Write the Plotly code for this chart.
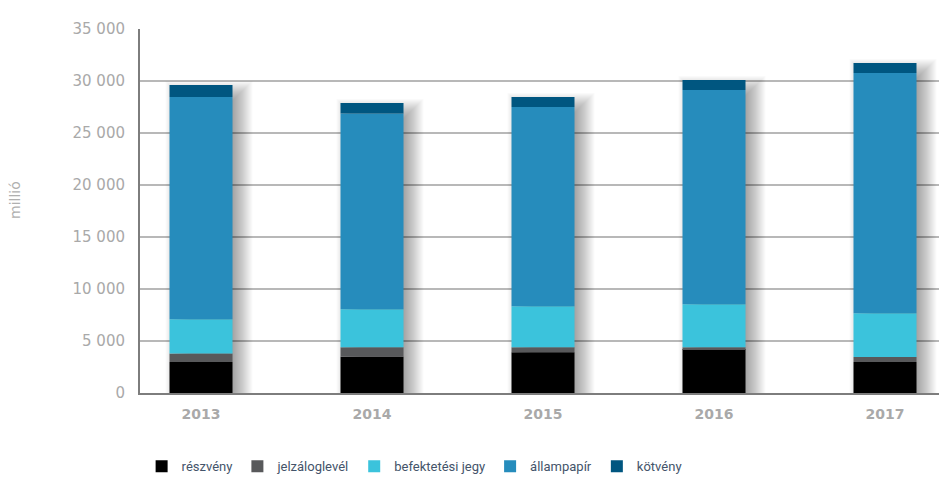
import plotly.graph_objects as go

years = ["2013", "2014", "2015", "2016", "2017"]
series_names = ["részvény", "jelzáloglevél", "befektetési jegy", "állampapír", "kötvény"]
reszveny = [2970, 3480, 3930, 4220, 2970]
jelzaloglevel = [835, 930, 480, 190, 480]
befektetesi_jegy = [3290, 3640, 3930, 4120, 4220]
allampapir = [21375, 18820, 19170, 20610, 23100]
kotveny = [1150, 1020, 960, 960, 960]
colors = ["#000000", "#58595b", "#3bc3dc", "#268cbc", "#005680"]

series = [reszveny, jelzaloglevel, befektetesi_jegy, allampapir, kotveny]
xs = list(range(len(years)))

# geometry helpers (pixel -> data units)
PX_X = 1 / 171.0
PX_Y = 35000 / 364.0
BAR_W = 63 * PX_X

fig = go.Figure()

# soft drop shadow (derived from totals): layered rectangles approximating a blur
totals = [sum(v) for v in zip(*series)]
dx, dy, r = 8, 8, 12
for e in range(-r, r + 1):
    fig.add_trace(go.Bar(
        x=xs, y=[t + (e - dy) * PX_Y for t in totals], base=0,
        width=(63 + 2 * e) * PX_X, offset=(-31.5 + dx - e) * PX_X,
        marker=dict(color="rgba(0,0,0,0.021)", line=dict(width=0)),
        showlegend=False, hoverinfo="skip"))

base = [0] * len(years)
for name, vals, col in zip(series_names, series, colors):
    fig.add_trace(go.Bar(
        x=xs, y=vals, base=base[:], name=name, width=BAR_W,
        marker=dict(color=col, line=dict(width=0))))
    base = [b + v for b, v in zip(base, vals)]

fig.update_layout(
    barmode="overlay",
    width=939, height=469,
    margin=dict(l=132, r=0, t=21, b=84, autoexpand=False),
    paper_bgcolor="white", plot_bgcolor="white",
    separators=", ",
    showlegend=True,
    legend=dict(orientation="h", x=0.002, xanchor="left", y=-0.16, yanchor="top",
                font=dict(family="Roboto, sans-serif", size=13, color="#44546a"),
                traceorder="normal", itemwidth=30),
    xaxis=dict(range=[-61 * PX_X, 746 * PX_X], tickvals=xs, ticktext=years,
               showgrid=False, zeroline=False, showline=True, linecolor="#7d7d7d", linewidth=2,
               ticks="", ticklabelstandoff=7,
               tickfont=dict(family="DejaVu Sans", size=14, color="#a9a9a9", weight="bold")),
    yaxis=dict(range=[0, 35000], dtick=5000, tickformat=",", showgrid=True,
               gridcolor="#b8b8b8", gridwidth=2, zeroline=False,
               showline=True, linecolor="#7d7d7d", linewidth=2, ticks="",
               ticklabelstandoff=10,
               tickfont=dict(family="DejaVu Sans", size=15, color="#a9a9a9")),
    annotations=[dict(text="millió", textangle=-90, xref="paper", yref="paper",
                      x=-0.155, y=0.53, xanchor="center", yanchor="middle", showarrow=False,
                      font=dict(family="DejaVu Sans", size=14, color="#b0b0b0"))],
)

fig.write_html("out.html")
